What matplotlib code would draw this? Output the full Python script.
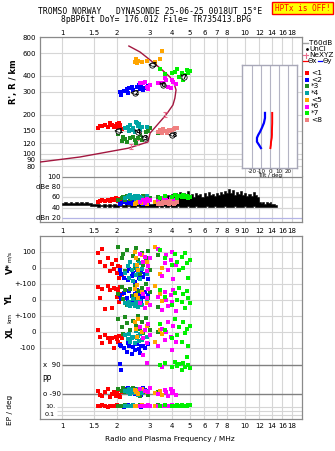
import numpy as np
import matplotlib
matplotlib.use("Agg")
import matplotlib.pyplot as plt
from matplotlib.patches import Rectangle
from matplotlib.ticker import NullLocator

# ------------------------------------------------------------------ data
TOP_TICKS = [1, 1.5, 2, 3, 4, 5, 6, 7, 8, 10, 12, 14, 16, 18]
MID_TICKS = [1, 1.5, 2, 3, 4, 5, 6, 7, 8, 9, 10, 12, 14, 16, 18]
GRID_F = [1, 1.5, 2, 3, 4, 5, 6, 7, 8, 10, 12, 14, 16, 18]
HT_TICKS = [80, 90, 100, 120, 150, 200, 300, 400, 600, 800]
DBE_TICKS = [100, 80, 60, 40, 20]
DBE_LABELS = ["100", "dBe 80", "60", "40", "dBn 20"]

S1_F = [1.57, 1.62, 1.65, 1.72, 1.78, 1.83, 1.88, 1.93, 1.97, 2.00, 2.03, 2.05, 2.07, 2.12]
S1_R = [158, 164, 163, 166, 160, 172, 165, 161, 163, 168, 158, 172, 165, 155]
S1_A = [52, 54, 55, 53, 56, 54, 57, 55, 58, 56, 54, 57, 55, 53]
S1_V = [95, 40, 120, 10, 60, -20, 25, -5, 50, -30, 15, -60, 5, -45]
S1_YL = [80, 12, 70, -55, 85, 60, -50, 75, 70, 20, 65, -10, 80, 40]
S1_XL = [15, -30, -70, -20, -40, -65, -35, -100, -30, -45, -60, -25, -75, -40]
S1_PP = [-70, -95, -105, -80, -60, -110, -90, -75, -100, -85, -65, -95, -110, -80]
S1_EP = [20, 15, 25, 18, 12, 22, 15, 20, 18, 25, 14, 20, 16, 22]

S2_F = [2.07, 2.10, 2.18, 2.27, 2.29, 2.32, 2.41, 2.44, 2.50, 2.57, 2.62, 2.67, 2.70, 2.78, 2.84, 2.95]
S2_R = [300, 284, 305, 316, 296, 322, 327, 311, 294, 327, 340, 316, 327, 312, 322, 333]
S2_A = [48, 50, 51, 49, 52, 50, 51, 48, 50, 52, 49, 51, 50, 48, 51, 50]
S2_V = [-15, -40, -60, -20, -75, -5, -50, -30, -85, -10, -65, -45, -25, -55, -35, -70]
S2_YL = [30, 5, 45, 15, -10, 55, 25, 0, 35, 65, 10, 40, -5, 20, 50, 30]
S2_XL = [-80, -90, -100, -125, -70, -85, -140, -95, -110, -75, -105, -130, -90, -85, -100, -78]
S2_PP = [95, 60, -60, -70, -55, -80, -65, -75, -90, -60, -70, -85, -95, -50, -65, -80]
S2_EP = [15, 20, 12, 18, 25, 15, 20, 14, 18, 22, 16, 20, 12, 18, 15, 20]

S3_F = [2.02, 2.13, 2.15, 2.22, 2.27, 2.35, 2.44, 2.50, 2.55, 2.60, 2.67, 2.72, 2.77, 2.88, 2.95, 3.03, 3.35]
S3_R = [142, 125, 134, 130, 123, 132, 134, 127, 121, 132, 139, 127, 129, 147, 150, 158, 144]
S3_A = [55, 58, 60, 56, 62, 57, 59, 61, 58, 55, 60, 57, 62, 59, 56, 58, 60]
S3_V = [130, 60, 90, -20, 110, 40, 75, 0, 125, 50, -40, 95, 20, 65, 105, -10, 80]
S3_YL = [40, 80, 5, 60, -30, 70, 25, 90, 10, 55, -20, 75, 35, 100, 15, 50, -45]
S3_XL = [80, 30, -10, 95, 55, 10, 70, -30, 40, 100, 20, 60, -5, 85, 45, 15, 0]
S3_PP = [-60, -70, -50, -80, -65, -90, -55, -75, -85, -60, -100, -70, -65, -80, -95, -55, -75]
S3_EP = [18, 22, 15, 25, 20, 14, 18, 22, 16, 20, 25, 15, 18, 22, 20, 16, 24]

S4_F = [2.21, 2.29, 2.32, 2.35, 2.40, 2.44, 2.50, 2.54, 2.57, 2.60, 2.64, 2.67, 2.75, 2.91]
S4_R = [158, 160, 149, 166, 152, 158, 147, 175, 172, 163, 168, 152, 160, 160]
S4_A = [58, 60, 62, 64, 59, 61, 63, 57, 60, 62, 58, 61, 59, 63]
S4_V = [-30, 10, -60, 40, -10, -80, 20, -45, 0, -20, 30, -70, -5, -40]
S4_YL = [-20, -30, -15, -40, -25, 5, -35, -10, -28, -45, -20, -5, -32, -15]
S4_XL = [-20, -45, -10, -60, -35, -30, -70, 5, -40, -25, -55, -15, -50, -30]
S4_PP = [-70, -80, -60, -90, -75, -65, -85, -70, -80, -95, -60, -75, -85, -70]
S4_EP = [16, 20, 14, 22, 18, 25, 15, 20, 18, 22, 16, 20, 24, 18]

S5_F = [2.50, 2.54, 2.57, 2.60, 2.74, 2.91, 3.22, 3.45, 3.52]
S5_R = [512, 540, 502, 521, 512, 521, 512, 540, 623]
S5_A = [48, 50, 49, 51, 50, 48, 52, 50, 49]
S5_V = [100, 60, 20, -10, 80, 40, 130, -40, 0]
S5_YL = [70, 30, 95, 10, 50, -20, 85, 40, -5]
S5_XL = [60, 20, -30, 80, 0, 40, -60, 10, -15]
S5_PP = [-65, -80, -70, -90, -60, -75, -85, -70, -95]
S5_EP = [18, 22, 15, 20, 25, 16, 20, 18, 22]

S6_F = [2.67, 2.77, 2.84, 2.91, 2.95, 3.03, 3.35, 3.52, 3.65, 3.72, 3.79, 3.94, 3.99, 4.04, 4.20]
S6_R = [352, 352, 358, 327, 316, 340, 352, 352, 385, 371, 327, 322, 371, 358, 346]
S6_A = [52, 55, 50, 57, 53, 56, 54, 58, 51, 55, 53, 57, 54, 52, 56]
S6_V = [90, 40, 70, -20, 10, 60, 120, -50, 30, 80, -10, 50, 100, -70, 20]
S6_YL = [-20, 40, -50, 10, 70, -30, 20, -60, 50, 0, -40, 30, -10, 60, -70]
S6_XL = [30, -40, 10, -70, 50, -20, -90, 20, -50, 0, 60, -30, -110, 40, -60]
S6_PP = [-60, 150, -70, 100, -80, -55, -90, 80, -65, -75, -100, -60, -85, -70, -95]
S6_EP = [20, 15, 18, 22, 25, 16, 20, 14, 18, 22, 20, 16, 24, 18, 20]

S7_F = [3.43, 3.65, 3.99, 4.14, 4.25, 4.36, 4.52, 4.58, 4.70, 4.82, 4.88, 5.00]
S7_R = [452, 413, 421, 428, 452, 392, 421, 371, 406, 444, 421, 436]
S7_A = [58, 62, 60, 64, 59, 63, 61, 65, 60, 62, 58, 61]
S7_V = [110, 60, 20, 85, 40, -10, 70, 0, 95, 30, -60, 50]
S7_YL = [60, 20, -30, 45, 0, 75, -10, 35, -50, 55, 10, -20]
S7_XL = [50, 10, -40, 80, -20, 30, -60, 60, -5, 20, -90, 40]
S7_PP = [90, 100, 75, 110, 85, 95, 60, 105, 80, 140, 90, 70]
S7_EP = [20, 25, 18, 22, 30, 20, 25, 18, 22, 20, 28, 24]

S8_F = [3.35, 3.43, 3.50, 3.56, 3.65, 3.74, 3.82, 3.89, 3.99, 4.08, 4.14, 4.25]
S8_R = [147, 152, 144, 155, 149, 144, 152, 149, 152, 155, 158, 158]
S8_A = [48, 50, 47, 52, 49, 51, 48, 53, 50, 47, 49, 51]

SER_NAMES = ["<1", "<2", "*3", "*4", "<5", "*6", "*7", "<8"]
SER_COLORS = ["#ff0000", "#0000ff", "#1e8c1e", "#00a4a4", "#ffa500", "#ff00ff", "#00f000", "#f08080"]

# circled echo-class labels
LBL_F = [2.02, 2.50, 2.84, 2.60, 3.10, 3.56, 4.64, 3.99]
LBL_H = [149, 295, 132, 147, 485, 340, 392, 139]

# model profile
PROF_F = [0.76, 1.25, 2.30, 2.95, 3.03, 3.65, 3.80, 4.04, 4.14, 4.20, 4.09, 3.89, 3.43, 3.03, 2.67, 2.32]
PROF_H = [86, 94, 110, 123, 144, 195, 210, 238, 269, 311, 352, 392, 460, 531, 612, 681]
NE_F = [2.38, 2.57, 3.65]
NE_H = [114, 121, 202]

# tilt inset
TILT_H = [206, 188, 172, 158, 147, 139, 132, 123, 116, 110]
TILT_Y = [-5.5, -5.5, -6.7, -8.9, -11.0, -13.0, -14.4, -14.4, -12.0, -10.0]
TILT_X = [2.5, 2.5, 2.5, 2.3, 2.2, 2.2, 2.0, 1.2, 1.0, 0.5]
TILT_TICKS = [-20, -10, 0, 10, 20]

# noise trace (dB)
NOISE_F = [1.00, 1.04, 1.08, 1.12, 1.16, 1.20, 1.24, 1.28, 1.32, 1.36, 1.40, 1.44, 1.48, 1.52,
           1.58, 1.64, 1.70, 1.76, 1.82, 1.88, 1.94, 2.00, 2.08, 2.16, 2.24, 2.32, 2.40, 2.50,
           2.60, 2.70, 2.80, 2.90, 3.00, 3.10, 3.20,
           3.30, 3.38, 3.46, 3.54, 3.62, 3.70, 3.80, 3.90, 4.00, 4.10, 4.20, 4.30, 4.40, 4.52,
           4.64, 4.76, 4.88, 5.00, 5.14, 5.28, 5.42, 5.56, 5.70, 5.86, 6.02, 6.18, 6.34, 6.50,
           6.68, 6.86, 7.04, 7.22, 7.40, 7.60, 7.80, 8.00, 8.20, 8.40, 8.60, 8.80, 9.00, 9.25,
           9.50, 9.75, 10.0, 10.3, 10.6, 10.9, 11.2, 11.5, 11.8, 12.1,
           12.3, 12.6, 12.9, 13.2, 13.5, 13.8, 14.1, 14.4, 14.7, 15.0]
NOISE_HI = [50, 51, 49, 51, 50, 52, 50, 51, 49, 51, 50, 49, 48, 47,
            47, 46, 47, 46, 47, 46, 47, 46, 47, 46, 47, 46, 47, 46,
            47, 47, 46, 47, 47, 48, 50,
            58, 54, 63, 57, 66, 60, 64, 57, 67, 61, 69, 63, 70, 62,
            68, 65, 72, 63, 67, 61, 69, 64, 66, 60, 68, 63, 70, 65,
            67, 62, 69, 64, 71, 66, 73, 68, 77, 69, 75, 65, 71, 67,
            73, 64, 69, 62, 67, 63, 70, 65, 61, 52,
            49, 52, 48, 51, 49, 51, 47, 48, 46, 46]
NOISE_LO = [46, 46, 45, 46, 45, 46, 45, 46, 45, 45, 46, 44, 43, 43,
            42, 43, 42, 43, 42, 43, 42, 42, 43, 42, 42, 43, 42, 42,
            43, 42, 42, 42, 42, 42, 42,
            42, 43, 42, 41, 43, 42, 41, 43, 42, 41, 42, 43, 41, 42,
            42, 41, 43, 42, 41, 42, 43, 41, 42, 42, 41, 43, 42, 41,
            42, 43, 41, 42, 42, 41, 43, 42, 41, 42, 42, 43, 41, 42,
            41, 42, 43, 42, 41, 42, 43, 42, 41, 42,
            42, 41, 42, 42, 41, 42, 41, 42, 41, 42]

# ------------------------------------------------------------------ layout
W, H = 335, 451
plt.rcParams['font.family'] = ['DejaVu Sans']
fig = plt.figure(figsize=(W / 100, H / 100), dpi=100)
fig.patch.set_facecolor('white')

def rect(l, t, r, b):
    return [l / W, 1 - b / H, (r - l) / W, (b - t) / H]

FMIN, FMAX = 0.758, 20.5
GRID = '#d6d6d6'
FRAME = '#8a8a8a'
DARK = '#808080'
MS = 2.3
TS = 5

def setup_freq(ax):
    ax.set_xscale('log')
    ax.set_xlim(FMIN, FMAX)
    ax.xaxis.set_minor_locator(NullLocator())
    ax.yaxis.set_minor_locator(NullLocator())
    for s in ax.spines.values():
        s.set_color(FRAME)
        s.set_linewidth(0.9)
    for f in GRID_F:
        ax.axvline(f, color=GRID, lw=0.8, zorder=0)

# row mapping for the stacked lower panel
def row_v(v):  return 151 + 0.16 * np.asarray(v, float)
def row_yl(v): return 119 + 0.16 * np.asarray(v, float)
def row_xl(v): return 87 + 0.16 * np.asarray(v, float)
def row_pp(p): return 39.5 + (29 / 180) * np.asarray(p, float)
def row_ep(e): return 8 + 4 * np.log10(np.asarray(e, float))

# ---------------- top panel
ax_top = fig.add_axes(rect(40, 37, 302, 176))
setup_freq(ax_top)
ax_top.set_yscale('log')
ax_top.set_ylim(67, 800)
ax_top.spines['bottom'].set_visible(False)
for h in HT_TICKS:
    ax_top.axhline(h, color=GRID, lw=0.8, zorder=0)
ax_top.set_yticks(HT_TICKS, [str(h) for h in HT_TICKS])
ax_top.yaxis.set_minor_locator(NullLocator())
ax_top.xaxis.set_ticks_position('top')
ax_top.set_xticks(TOP_TICKS, [f"{t:g}" for t in TOP_TICKS])
ax_top.xaxis.set_minor_locator(NullLocator())
ax_top.tick_params(axis='x', length=0, pad=0.8, labelsize=TS)
ax_top.tick_params(axis='y', length=0, pad=3, labelsize=TS)

ax_top.plot(PROF_F, PROF_H, color='#a3173f', lw=1.0, zorder=3)
ne_err = [[h * 0.045 for h in NE_H], [h * 0.045 for h in NE_H]]
ax_top.errorbar(NE_F, NE_H, yerr=ne_err, fmt='none', ecolor='#ea6f8e', elinewidth=0.8,
                capsize=1.6, capthick=0.8, zorder=3)

series = [
    (S1_F, S1_R, S1_A, S1_V, S1_YL, S1_XL, S1_PP, S1_EP),
    (S2_F, S2_R, S2_A, S2_V, S2_YL, S2_XL, S2_PP, S2_EP),
    (S3_F, S3_R, S3_A, S3_V, S3_YL, S3_XL, S3_PP, S3_EP),
    (S4_F, S4_R, S4_A, S4_V, S4_YL, S4_XL, S4_PP, S4_EP),
    (S5_F, S5_R, S5_A, S5_V, S5_YL, S5_XL, S5_PP, S5_EP),
    (S6_F, S6_R, S6_A, S6_V, S6_YL, S6_XL, S6_PP, S6_EP),
    (S7_F, S7_R, S7_A, S7_V, S7_YL, S7_XL, S7_PP, S7_EP),
    (S8_F, S8_R, S8_A, None, None, None, None, None),
]
for (F, R, A, *_), c in zip(series, SER_COLORS):
    ax_top.plot(F, R, 's', color=c, ms=MS, mew=0, zorder=4)

for f, h, name in zip(LBL_F, LBL_H, SER_NAMES):
    ax_top.plot([f], [h], 'o', ms=3.8, mfc='white', mec='black', mew=0.6, zorder=5)
    ax_top.text(f, h, name, fontsize=4.8, ha='center', va='center', color='black',
                fontweight='bold', zorder=6)

# ---------------- tilt inset
ax_t = fig.add_axes(rect(242, 65, 297, 168))
ax_t.set_facecolor('white')
ax_t.set_zorder(5)
ax_t.set_yscale('log')
ax_t.set_ylim(77, 485)
ax_t.set_xlim(-31, 30)
for s in ax_t.spines.values():
    s.set_color('#a8a8b8')
    s.set_linewidth(1.0)
for t in TILT_TICKS:
    ax_t.axvline(t, color='#b4b4c4', lw=0.8, zorder=0)
ax_t.plot(TILT_Y, TILT_H, color='#0000ff', lw=1.6)
ax_t.plot(TILT_X, TILT_H, color='#ff0000', lw=1.4)
ax_t.set_yticks([])
ax_t.yaxis.set_minor_locator(NullLocator())
ax_t.set_xticks(TILT_TICKS, [str(t) for t in TILT_TICKS])
ax_t.tick_params(axis='x', length=0, pad=0.6, labelsize=4.0)

# ---------------- dBe panel
ax_d = fig.add_axes(rect(40, 176, 302, 222))
setup_freq(ax_d)
ax_d.set_ylim(12, 102)
ax_d.spines['top'].set_visible(False)
dbe_cols = ['#8a8a8a', GRID, GRID, GRID, '#b4b4e6']
for v, col in zip(DBE_TICKS, dbe_cols):
    ax_d.hlines(v, 1.0, FMAX, color=col, lw=0.9, zorder=0)
ax_d.set_yticks([])
ax_d.fill_between(NOISE_F, NOISE_LO, NOISE_HI, step='mid', color='black', lw=0.4,
                  edgecolor='black', zorder=2)
for (F, R, A, *_), c in zip(series, SER_COLORS):
    ax_d.plot(F, A, 's', color=c, ms=MS, mew=0, zorder=4)
ax_d.set_xticks(MID_TICKS, [f"{t:g}" for t in MID_TICKS])
ax_d.xaxis.set_minor_locator(NullLocator())
ax_d.tick_params(axis='x', length=0, pad=4.0, labelsize=TS)

# ---------------- lower stacked panel
ax_b = fig.add_axes(rect(40, 236, 302, 419))
setup_freq(ax_b)
ax_b.set_ylim(0, 183)
light_rows = [row_v(100), row_v(0), row_v(-100), row_yl(0), row_yl(-100), row_xl(0), row_xl(-100)]
for y in light_rows:
    ax_b.axhline(y, color=GRID, lw=0.8, zorder=0)
for y in [row_pp(90), row_pp(-90)]:
    ax_b.hlines(y, 1.0, FMAX, color=DARK, lw=1.0, zorder=1)
for y in [row_ep(10), row_ep(1), row_ep(0.1)]:
    ax_b.hlines(y, 0.94, FMAX, color=GRID, lw=0.8, zorder=0)
ax_b.set_yticks([])
for (F, R, A, V, YL, XL, PP, EP), c in zip(series, SER_COLORS):
    if V is None:
        continue
    for vals, fn in [(V, row_v), (YL, row_yl), (XL, row_xl), (PP, row_pp), (EP, row_ep)]:
        ax_b.plot(F, fn(vals), 's', color=c, ms=MS, mew=0, zorder=4)
ax_b.set_xticks(TOP_TICKS, [f"{t:g}" for t in TOP_TICKS])
ax_b.xaxis.set_minor_locator(NullLocator())
ax_b.tick_params(axis='x', length=0, pad=2.8, labelsize=TS)

# ---------------- overlay for text in pixel space
ov = fig.add_axes([0, 0, 1, 1])
ov.set_xlim(0, W)
ov.set_ylim(H, 0)
ov.axis('off')
ov.set_zorder(20)

ov.text(150, 11, "TROMSO NORWAY   DYNASONDE 25-06-25 0018UT 15°E", fontsize=5.75,
        family='DejaVu Sans Mono', ha='center', va='center')
ov.text(156, 19.5, "8pBP6It DoY= 176.012 File= TR735413.BPG", fontsize=5.75,
        family='DejaVu Sans Mono', ha='center', va='center')
ov.add_patch(Rectangle((272, 2), 61, 12, facecolor='#ffff00', edgecolor='#ff0000', lw=1.0))
ov.text(302.5, 8.3, "HPTx is OFF!", fontsize=5.6, family='DejaVu Sans Mono',
        color='#ff0000', ha='center', va='center')

ov.text(13.5, 82, "R', R / km", fontsize=6, fontweight='bold', rotation=90,
        ha='center', va='center')

# dBe labels
for v, lab in zip(DBE_TICKS, DBE_LABELS):
    yy = 176 + (102 - v) / 90 * 46
    ov.text(61, yy, lab, fontsize=TS, ha='right', va='center')

# tilt label
ov.text(270, 175.5, "Tilt / deg", fontsize=4.0, ha='center', va='center')

# lower panel labels
def py_row(r):
    return 419 - r
left_labels = [(row_v(100), "100"), (row_v(0), "0"), (row_v(-100), "+-100"),
               (row_yl(0), "0"), (row_yl(-100), "+-100"), (row_xl(0), "0"),
               (row_xl(-100), "-100")]
for r, lab in left_labels:
    ov.text(36, py_row(r), lab, fontsize=TS, ha='right', va='center')
for r, lab in [(row_pp(90), "x  90"), (row_pp(-90), "o -90")]:
    ov.text(61, py_row(r), lab, fontsize=TS, ha='right', va='center')
for r, lab in [(row_ep(10), "10."), (row_ep(0.1), "0.1")]:
    ov.text(55, py_row(r), lab, fontsize=4.6, ha='right', va='center')

ov.text(10, 269, "V*", fontsize=6, fontweight='bold', rotation=90, ha='center', va='center')
ov.text(10, 257, "m/s", fontsize=4.3, rotation=90, ha='center', va='center')
ov.text(10, 299, "YL", fontsize=6, fontweight='bold', rotation=90, ha='center', va='center')
ov.text(10, 318, "km", fontsize=4.6, rotation=90, ha='center', va='center')
ov.text(10, 332, "XL", fontsize=6, fontweight='bold', rotation=90, ha='center', va='center')
ov.text(47, 380, "PP", fontsize=5.5, ha='center', va='center')
ov.text(10, 410, "EP / deg", fontsize=5.3, rotation=90, ha='center', va='center')
ov.text(170, 439, "Radio and Plasma Frequency / MHz", fontsize=5.3, ha='center', va='center')

# legend
LX = 309
ov.plot([303, 307.5], [43, 43], color='#a0a0a0', lw=1.0)
ov.text(LX, 43, "T60dB", fontsize=5.2, ha='left', va='center')
ov.plot([306.5], [49], '.', color='black', ms=2)
ov.text(LX, 49, "UnCl", fontsize=5.2, ha='left', va='center')
ov.plot([303, 308], [55, 55], color='#ea6f8e', lw=0.8)
ov.plot([305.5, 305.5], [52.5, 57.5], color='#ea6f8e', lw=0.8)
ov.text(LX, 55, "NeXYZ", fontsize=5.2, ha='left', va='center')
ov.plot([303, 307.5], [61, 61], color='#ff0000', lw=0.9)
ov.text(307.8, 61, "Θx", fontsize=5.0, ha='left', va='center')
ov.plot([317.5, 322], [61, 61], color='#0000ff', lw=0.9)
ov.text(322.3, 61, "Θy", fontsize=5.0, ha='left', va='center')
for i, (name, c) in enumerate(zip(SER_NAMES, SER_COLORS)):
    yy = 73 + i * 6.7
    ov.plot([307], [yy], 's', color=c, ms=2.6, mew=0)
    ov.text(311, yy, name, fontsize=5.4, ha='left', va='center')

fig.savefig("out.png", dpi=100)
